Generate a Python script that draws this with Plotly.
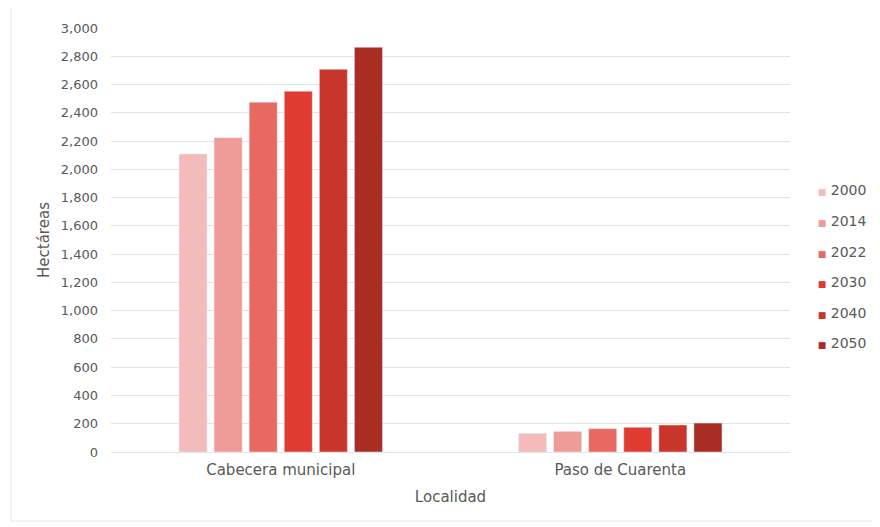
import plotly.graph_objects as go

localidades = ["Cabecera municipal", "Paso de Cuarenta"]
years = ["2000", "2014", "2022", "2030", "2040", "2050"]
hectareas = {
    "2000": [2109, 132],
    "2014": [2224, 146],
    "2022": [2475, 165],
    "2030": [2553, 175],
    "2040": [2708, 191],
    "2050": [2864, 205],
}
colors = ["#f3bcbb", "#ef9b98", "#e86962", "#e03b30", "#c9362b", "#a92d23"]

FONT = "DejaVu Sans"
GRAY = "#595959"

fig = go.Figure()
for year, color in zip(years, colors):
    fig.add_trace(go.Bar(
        x=localidades,
        y=hectareas[year],
        name=year,
        marker_color=color,
        showlegend=False,
    ))

# legend entries with small square swatches placed tight against the text
for year, color in zip(years, colors):
    fig.add_trace(go.Scatter(
        x=[None], y=[None],
        mode="markers",
        marker=dict(color="rgba(0,0,0,0)", size=1),
        name=f"<span style='color:{color};font-size:9px'>■</span> {year}",
        legendgroup=year,
        hoverinfo="skip",
    ))

# page body has an 8px margin, so the figure is sized 872x519 and shifted
fig.update_layout(
    width=872,
    height=519,
    margin=dict(l=103, r=90, t=20, b=75, autoexpand=False),
    paper_bgcolor="white",
    plot_bgcolor="white",
    barmode="group",
    bargap=0.38,
    bargroupgap=0.2,
    font=dict(family=FONT, size=13, color=GRAY),
    legend=dict(
        x=0.982, y=0.655, xanchor="left", yanchor="top",
        font=dict(size=14, color=GRAY),
        tracegroupgap=9.4,
        itemwidth=30,
        bgcolor="rgba(0,0,0,0)",
    ),
    showlegend=True,
)

fig.update_yaxes(
    range=[0, 3000],
    dtick=200,
    tickformat=",",
    showgrid=True,
    gridcolor="#e3e3e3",
    zeroline=False,
    showline=False,
    ticks="",
    ticklabelstandoff=12,
    tickfont=dict(size=13, color=GRAY),
    title=dict(text="Hectáreas", font=dict(size=15, color=GRAY), standoff=7),
)
fig.update_xaxes(
    showline=True,
    linecolor="#e3e3e3",
    ticks="",
    ticklabelstandoff=4,
    tickfont=dict(size=15, color=GRAY),
    title=dict(text="Localidad", font=dict(size=15, color=GRAY), standoff=13),
)

# outer chart border
fig.add_shape(
    type="rect", xref="paper", yref="paper",
    x0=(11 - 111) / 679, x1=(877 - 111) / 679,
    y0=-(521 - 452) / 424, y1=1 + (28 - 6) / 424,
    line=dict(color="#e6e6e6", width=1),
)

fig.write_html("out.html")
